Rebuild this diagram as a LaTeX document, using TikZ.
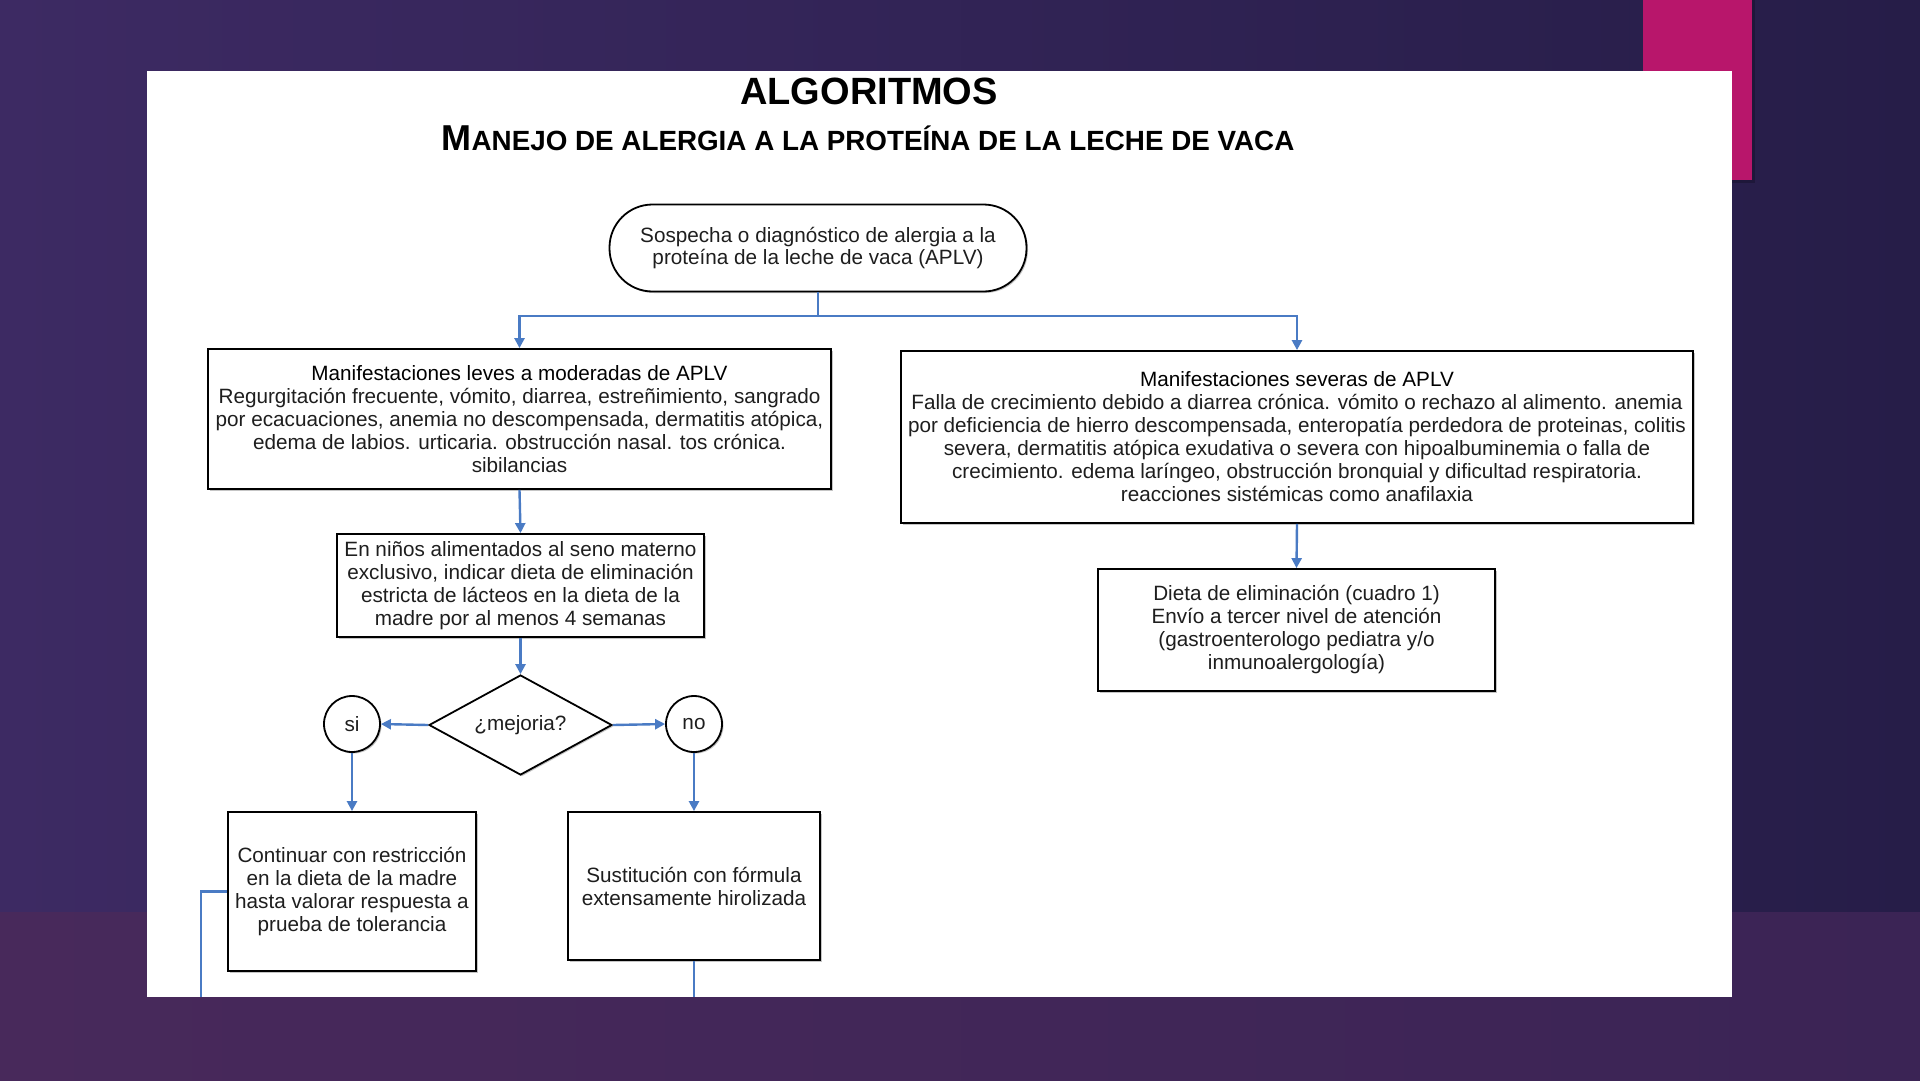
\documentclass[tikz,border=0pt]{standalone}
\usepackage{fontspec}
\setmainfont{Liberation Sans}
\usetikzlibrary{arrows.meta,shapes.geometric,shadows}
\definecolor{navy}{HTML}{261D48}
\definecolor{purp}{HTML}{3D2A63}
\definecolor{band}{HTML}{48295B}
\definecolor{bandr}{HTML}{3B2455}
\definecolor{magent}{HTML}{B8166B}
\definecolor{conn}{HTML}{4A7BC4}
\definecolor{txt}{HTML}{1E1E1E}
\tikzset{
  boxtext/.style={font=\fontsize{20.7}{23}\selectfont, text=txt, align=center},
  flowbox/.style={draw=black, line width=1.8pt, fill=white, boxtext, inner sep=0pt,
    drop shadow={shadow xshift=1.5pt,shadow yshift=-1.5pt,fill=black!45}},
  conline/.style={draw=conn, line width=2.4pt},
  arr/.style={conline, -{Triangle[length=10pt,width=10pt]}},
}
\begin{document}
\begin{tikzpicture}[x=1pt,y=-1pt]
\useasboundingbox (0,0) rectangle (1920,1080);
% background
\fill[navy] (0,0) rectangle (1920,1080);
\shade[left color=purp, right color=navy] (0,0) rectangle (1920,912);
\shade[left color=band, right color=bandr] (0,912) rectangle (1920,1080);
% magenta accent
\fill[navy!80!black] (1646,0) rectangle (1755,183);
\fill[magent] (1643,0) rectangle (1752,180);
% white panel
\fill[white] (147,71) rectangle (1732,997);

% titles
\node[anchor=base, font=\fontsize{38}{40}\selectfont\bfseries] (title) at (869,104) {ALGORITMOS};
\node[anchor=base, font=\bfseries] (subtitle) at (868,150)
  {\fontsize{36}{38}\selectfont M\fontsize{27.8}{30}\selectfont ANEJO DE ALERGIA A LA PROTEÍNA DE LA LECHE DE VACA};

% nodes
\node[flowbox, rounded corners=43pt, minimum width=417pt, minimum height=87pt,
  font=\fontsize{20.7}{22}\selectfont] (term) at (818,248)
  {Sospecha o diagnóstico de alergia a la\\proteína de la leche de vaca (APLV)};

\node[flowbox, minimum width=623pt, minimum height=140pt] (leves) at (519.5,419)
  {\textcolor{black}{Manifestaciones leves a moderadas de APLV}\\
   Regurgitación frecuente, vómito, diarrea, estreñimiento, sangrado\\
   por ecacuaciones, anemia no descompensada, dermatitis atópica,\\
   edema de labios. urticaria. obstrucción nasal. tos crónica.\\
   sibilancias};

\node[flowbox, minimum width=792pt, minimum height=172pt] (severas) at (1297,437)
  {\textcolor{black}{Manifestaciones severas de APLV}\\
   Falla de crecimiento debido a diarrea crónica. vómito o rechazo al alimento. anemia\\
   por deficiencia de hierro descompensada, enteropatía perdedora de proteinas, colitis\\
   severa, dermatitis atópica exudativa o severa con hipoalbuminemia o falla de\\
   crecimiento. edema laríngeo, obstrucción bronquial y dificultad respiratoria.\\
   reacciones sistémicas como anafilaxia};

\node[flowbox, minimum width=367pt, minimum height=103pt] (seno) at (520.5,585.5)
  {En niños alimentados al seno materno\\
   exclusivo, indicar dieta de eliminación\\
   estricta de lácteos en la dieta de la\\
   madre por al menos 4 semanas};

\node[flowbox, diamond, aspect=1.83, minimum width=183pt, minimum height=100pt] (mejoria) at (520.5,725)
  {¿mejoria?};

\node[flowbox, circle, minimum size=56pt] (si) at (352,724) {si};
\node[flowbox, circle, minimum size=56pt] (no) at (694,724) {no};

\node[flowbox, minimum width=248pt, minimum height=159pt] (cont) at (352,891.5)
  {Continuar con restricción\\
   en la dieta de la madre\\
   hasta valorar respuesta a\\
   prueba de tolerancia};

\node[flowbox, minimum width=252pt, minimum height=148pt] (sust) at (694,886)
  {Sustitución con fórmula\\
   extensamente hirolizada};

\node[flowbox, minimum width=397pt, minimum height=122pt] (dieta) at (1296.5,630)
  {Dieta de eliminación (cuadro 1)\\
   Envío a tercer nivel de atención\\
   (gastroenterologo pediatra y/o\\
   inmunoalergología)};

% connectors
\coordinate (split) at (818,316);
\draw[conline] (term.south) -- (split);
\draw[arr] (split) -| (leves.north);
\draw[arr] (split) -| (severas.north);
\draw[arr] (leves.south) -- (seno.north);
\draw[arr] (seno.south) -- (mejoria.north);
\draw[arr] (mejoria.west) -- (si.east);
\draw[arr] (mejoria.east) -- (no.west);
\draw[arr] (si.south) -- (cont.north);
\draw[arr] (no.south) -- (sust.north);
\draw[arr] (severas.south) -- (dieta.north);
\coordinate (contend) at (201,997);
\coordinate (sustend) at (694,997);
\draw[conline] (cont.west) -| (contend);
\draw[conline] (sust.south) -- (sustend);
\end{tikzpicture}
\end{document}
